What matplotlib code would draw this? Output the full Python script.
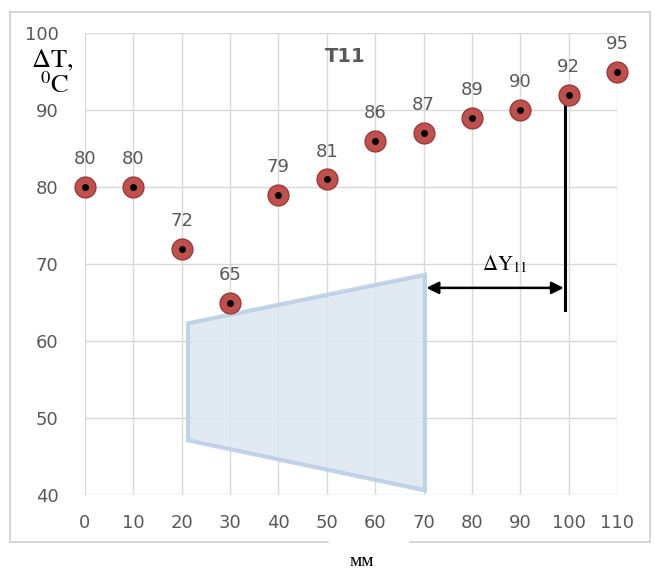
import matplotlib.pyplot as plt
from matplotlib.patches import Polygon
from matplotlib.lines import Line2D

plt.rcParams['mathtext.fontset'] = 'stix'

# distance, mm and temperature difference, deg C
x_mm = [0, 10, 20, 30, 40, 50, 60, 70, 80, 90, 100, 110]
dT = [80, 80, 72, 65, 79, 81, 86, 87, 89, 90, 92, 95]
x_ticks = [0, 10, 20, 30, 40, 50, 60, 70, 80, 90, 100, 110]
y_ticks = [40, 50, 60, 70, 80, 90, 100]

# shaded specimen outline (x, y corners)
shape_x = [21.3, 70.3, 70.3, 21.3]
shape_y = [62.3, 68.6, 40.6, 47.1]

# delta Y marker
dy_x = 99.3
dy_top, dy_bottom = 92, 64.0
arrow_from, arrow_to, arrow_y = 70.6, 99.0, 66.9

grey = '#595959'

fig = plt.figure(figsize=(6.55, 5.71), dpi=100)

# outer chart frame with a gap behind the axis title
frame_col = '#d0d0d0'
fig.add_artist(Line2D([10/655, 10/655], [1-12/571, 1-542/571], color=frame_col, lw=1.2))
fig.add_artist(Line2D([650/655, 650/655], [1-12/571, 1-542/571], color=frame_col, lw=1.2))
fig.add_artist(Line2D([10/655, 650/655], [1-12/571, 1-12/571], color=frame_col, lw=1.2))
fig.add_artist(Line2D([10/655, 328/655], [1-542/571, 1-542/571], color=frame_col, lw=1.2))
fig.add_artist(Line2D([410/655, 650/655], [1-542/571, 1-542/571], color=frame_col, lw=1.2))

ax = fig.add_axes([85/655, 1-495/571, 532/655, 462/571])
ax.set_xlim(0, 110)
ax.set_ylim(40, 100)
ax.set_xticks(x_ticks)
ax.set_yticks(y_ticks)
ax.grid(True, color='#d9d9d9', lw=1)
ax.set_axisbelow(True)
for s in ax.spines.values():
    s.set_visible(False)
ax.tick_params(length=0, labelsize=13, labelcolor=grey)
ax.tick_params(axis='y', pad=19)
ax.tick_params(axis='x', pad=14)

# shaded trapezoid
poly = Polygon(list(zip(shape_x, shape_y)), closed=True, facecolor='#dce6f2',
               edgecolor='#b9cde5', lw=3, alpha=0.85, zorder=2)
ax.add_patch(poly)

# vertical line and arrow
ax.plot([dy_x, dy_x], [dy_top, dy_bottom], color='black', lw=2.2, zorder=3)
ax.annotate('', xy=(arrow_to, arrow_y), xytext=(arrow_from, arrow_y),
            arrowprops=dict(arrowstyle='<|-|>', color='black', lw=1.8,
                            mutation_scale=18, shrinkA=0, shrinkB=0), zorder=3)
ax.text(86.8, 70.0, r'$\Delta\mathrm{Y}_{11}$', fontsize=15,
        ha='center', va='center')

# points
ax.plot(x_mm, dT, 'o', ms=15, mfc='#c0504d', mec='#9b3a37', mew=1.0,
        clip_on=False, zorder=4)
ax.plot(x_mm, dT, 'o', ms=4, mfc='black', mec='black', clip_on=False, zorder=5)
for xv, yv in zip(x_mm, dT):
    ax.text(xv, yv + 3.6, str(yv), ha='center', va='center', fontsize=13,
            color=grey, clip_on=False)

ax.text(53.8, 96.9, 'T11', ha='center', va='center', fontsize=14,
        fontweight='bold', color=grey)

fig.text(52/655, 1-60/571, r'$\Delta\mathrm{T},$', ha='center', va='center', fontsize=19)
fig.text(55/655, 1-86/571, r'$^{0}\mathrm{C}$', ha='center', va='center', fontsize=19)
fig.text(362/655, 1-562/571, 'мм', ha='center', va='center', fontsize=14,
         family='Liberation Serif')

fig.savefig('out.png', dpi=100)
